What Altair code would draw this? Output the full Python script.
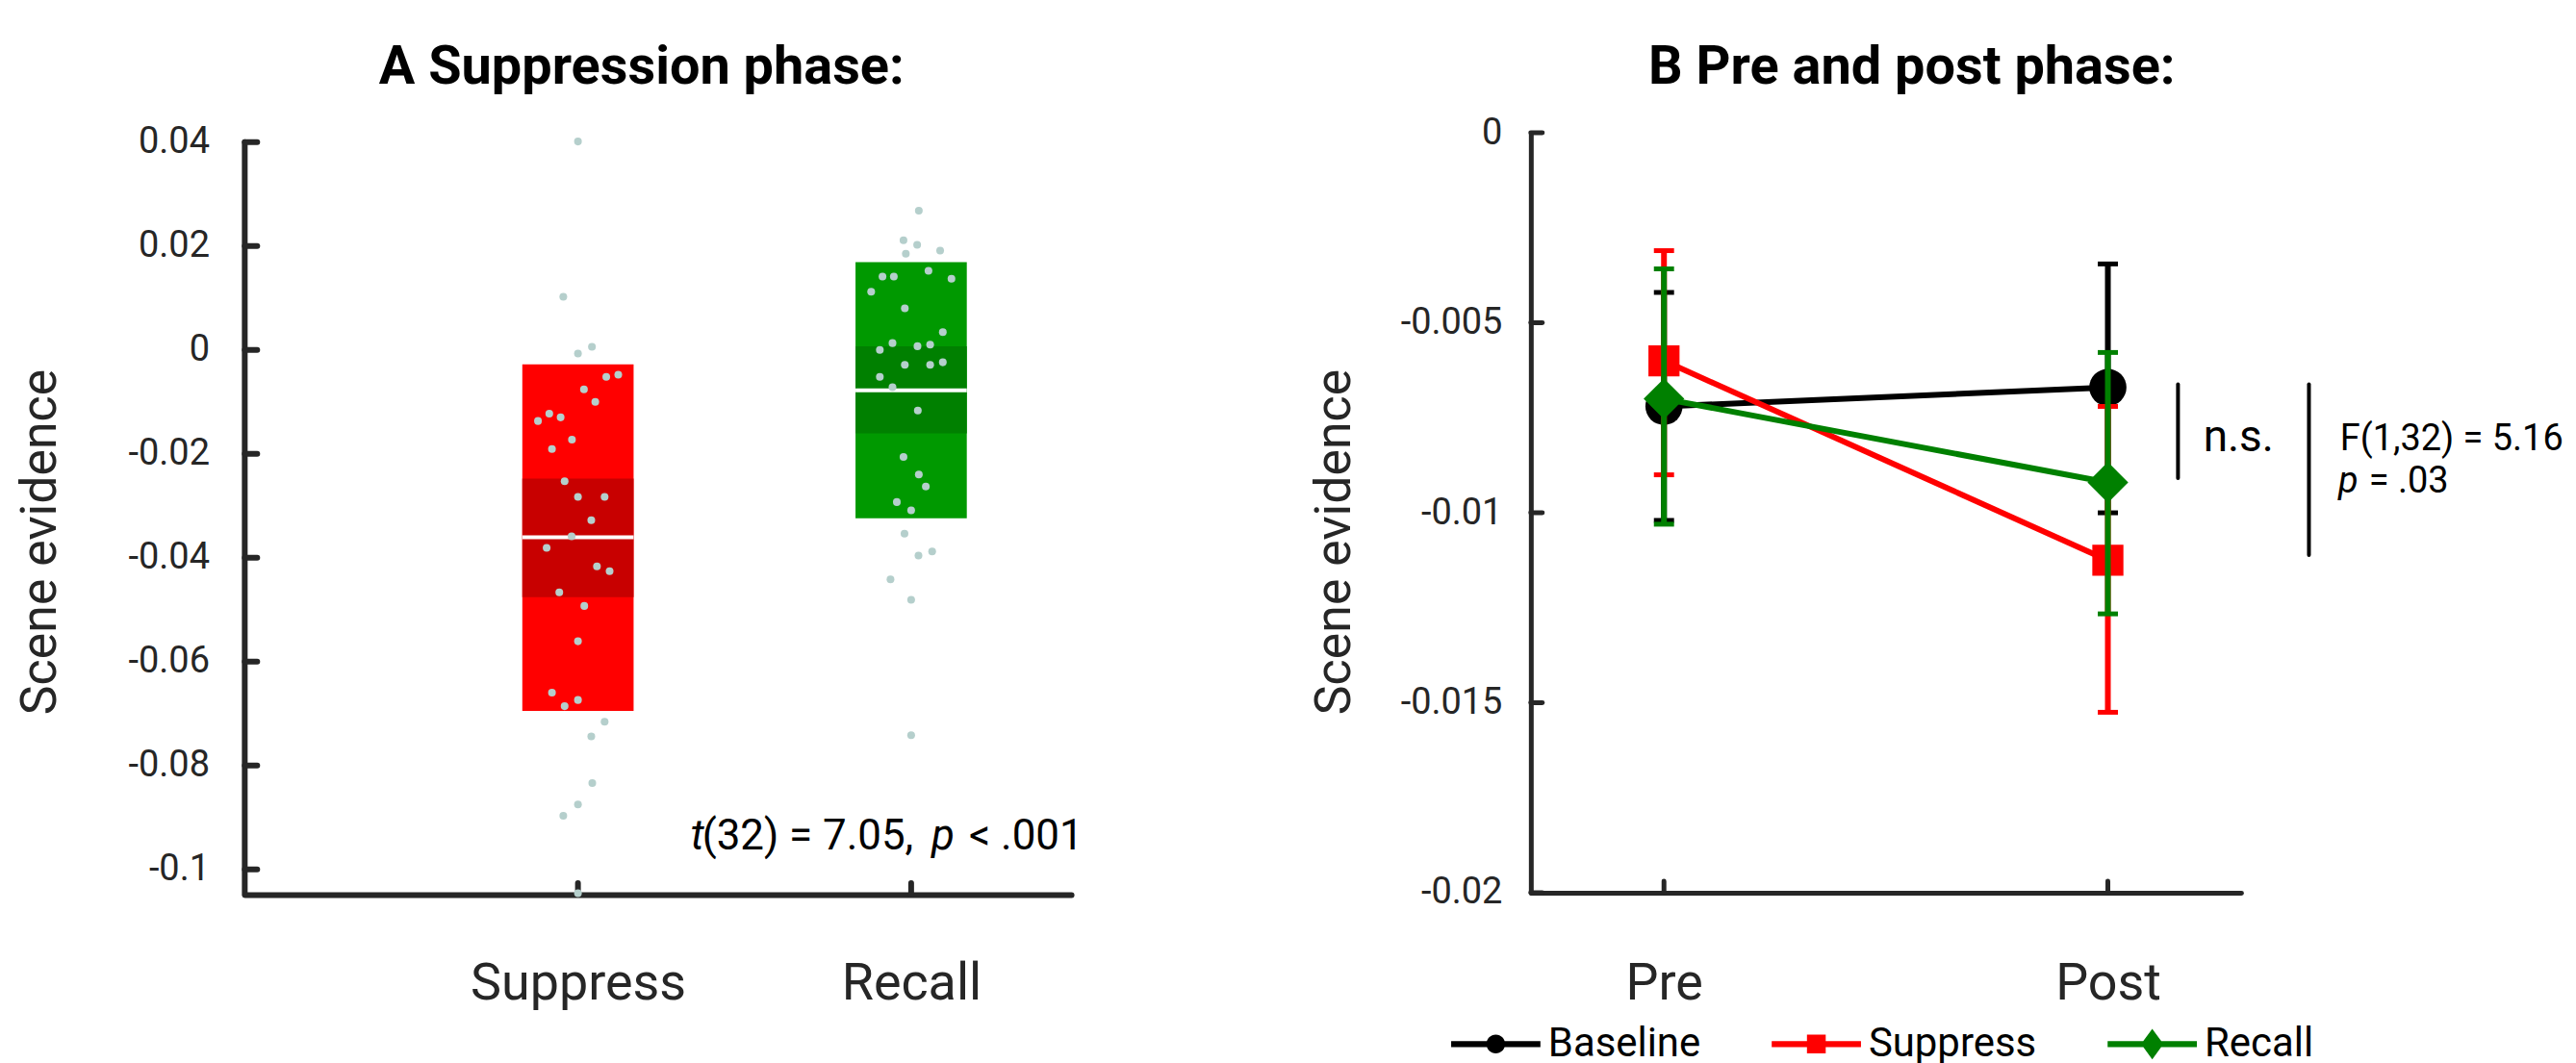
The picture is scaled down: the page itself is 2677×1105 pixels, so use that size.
import altair as alt
import pandas as pd

FONT = "Roboto"
AX = "#262626"

# ---------------- Panel A data ----------------
conditions = ["Suppress", "Recall"]
cond_pos = [1, 2]
box_colors = ["#ff0000", "#009900"]
band_colors = ["#c80000", "#008000"]
box_high = [-0.0028, 0.0169]
box_low = [-0.0695, -0.0324]
ci_high = [-0.0248, 0.0007]
ci_low = [-0.0476, -0.0161]
cond_mean = [-0.0361, -0.0078]

suppress_vals = [0.0401, 0.0102, -0.0007, 0.0006, -0.0052, -0.0048, -0.0076, -0.0100,
                 -0.0137, -0.0123, -0.0130, -0.0173, -0.0191, -0.0253, -0.0283, -0.0283,
                 -0.0328, -0.0359, -0.0381, -0.0417, -0.0426, -0.0467, -0.0493, -0.0561,
                 -0.0660, -0.0686, -0.0674, -0.0716, -0.0744, -0.0834, -0.0875, -0.0897, -0.1046]
suppress_jitter = [0, -0.044, 0, 0.042, 0.085, 0.121, 0.018, 0.052, -0.120, -0.086, -0.052,
                   -0.018, -0.078, -0.040, 0, 0.080, 0.040, -0.019, -0.094, 0.057, 0.095,
                   -0.056, 0.019, 0, -0.078, -0.040, 0, 0.080, 0.040, 0.043, 0, -0.044, 0]
recall_vals = [0.0268, 0.0211, 0.0202, 0.0185, 0.0191, 0.0141, 0.0141, 0.0152, 0.0137,
               0.0112, 0.0080, 0.0034, 0.0013, 0.0000, 0.0007, 0.0010, -0.0029, -0.0029,
               -0.0024, -0.0052, -0.0072, -0.0117, -0.0206, -0.0240, -0.0263, -0.0293,
               -0.0309, -0.0354, -0.0396, -0.0388, -0.0442, -0.0481, -0.0742]
recall_jitter = [0.023, -0.023, 0.018, -0.016, 0.087, -0.086, -0.052, 0.052, 0.121, -0.120,
                 -0.019, 0.095, -0.056, -0.094, 0.019, 0.057, -0.019, 0.057, 0.095, -0.094,
                 -0.056, 0.020, -0.023, 0.023, 0.044, -0.043, 0, -0.020, 0.022, 0.063,
                 -0.062, 0, 0]
a_ticks = [0.04, 0.02, 0, -0.02, -0.04, -0.06, -0.08, -0.1]

# ---------------- Panel B data ----------------
phases = ["Pre", "Post"]
phase_pos = [1, 2]
series = ["Baseline", "Suppress", "Recall"]
series_colors = ["#000000", "#ff0000", "#008000"]
series_shapes = ["circle", "square", "diamond"]
series_sizes = [1500, 1050, 1800]
baseline_mean = [-0.0072, -0.0067]
baseline_lo = [-0.0102, -0.0100]
baseline_hi = [-0.0042, -0.00345]
suppress_mean = [-0.0060, -0.01125]
suppress_lo = [-0.0090, -0.01525]
suppress_hi = [-0.0031, -0.0072]
recall_mean = [-0.0070, -0.0092]
recall_lo = [-0.0103, -0.01266]
recall_hi = [-0.00358, -0.00578]
b_ticks = [0, -0.005, -0.01, -0.015, -0.02]

# ---------------- layout constants ----------------
A_W, A_H = 861, 794
A_XDOM = [0, 2.48]
A_YDOM = [-0.10488, 0.04177]
BOX_HALF = 0.167
B_W, B_H = 740, 792
B_XDOM = [0.7, 2.3]
B_YDOM = [-0.02, 0]

# ---------------- Panel A ----------------
df_box = pd.DataFrame({"cond": conditions, "pos": cond_pos, "hi": box_high, "lo": box_low,
                       "ci_hi": ci_high, "ci_lo": ci_low, "mean": cond_mean,
                       "c_box": box_colors, "c_band": band_colors})
df_box["x1"] = df_box["pos"] - BOX_HALF
df_box["x2"] = df_box["pos"] + BOX_HALF

df_dots = pd.DataFrame({
    "cond": [conditions[0]] * len(suppress_vals) + [conditions[1]] * len(recall_vals),
    "pos": [cond_pos[0]] * len(suppress_vals) + [cond_pos[1]] * len(recall_vals),
    "val": suppress_vals + recall_vals,
    "jit": suppress_jitter + recall_jitter,
})
df_dots["xp"] = df_dots["pos"] + df_dots["jit"]

a_label_expr = f"datum.value == {cond_pos[0]} ? '{conditions[0]}' : '{conditions[1]}'"
num_expr = "datum.value == 0 ? '0' : '' + datum.value"


def ax_a(field):
    return alt.X(f"{field}:Q", scale=alt.Scale(domain=A_XDOM, nice=False, zero=False),
                 axis=alt.Axis(values=cond_pos, labelExpr=a_label_expr, domain=True,
                               domainColor=AX, domainWidth=6, domainCap="round",
                               ticks=False, tickSize=0, grid=False, labelFont=FONT,
                               labelFontSize=54, labelColor=AX, labelPadding=66,
                               labelLimit=500, title=None, zindex=0))


def ay_a(field):
    return alt.Y(f"{field}:Q", scale=alt.Scale(domain=A_YDOM, nice=False, zero=False),
                 axis=alt.Axis(values=a_ticks, labelExpr=num_expr, domain=False, ticks=False,
                               tickSize=0, grid=False, labelFont=FONT, labelFontSize=38,
                               labelColor=AX, labelPadding=37, title="Scene evidence",
                               titleFont=FONT, titleFontSize=52, titleFontWeight="normal",
                               titleColor=AX, titlePadding=65, titleY=426, zindex=0))


yline_a = alt.Chart(pd.DataFrame({"x": [A_XDOM[0]], "y1": [A_YDOM[0]], "y2": [a_ticks[0]]})).mark_rule(
    color=AX, strokeWidth=6, strokeCap="round").encode(x=ax_a("x"), y=ay_a("y1"), y2="y2:Q")
yticks_a = alt.Chart(pd.DataFrame({"v": a_ticks})).mark_rule(
    color=AX, strokeWidth=6, strokeCap="round").encode(y=ay_a("v"), x=alt.value(0), x2=alt.value(13))
xticks_a = alt.Chart(pd.DataFrame({"p": cond_pos})).mark_rule(
    color=AX, strokeWidth=6, strokeCap="round").encode(x=ax_a("p"), y=alt.value(A_H), y2=alt.value(A_H - 12))

boxes = alt.Chart(df_box).mark_rect().encode(
    x=ax_a("x1"), x2="x2:Q", y=ay_a("lo"), y2="hi:Q", color=alt.Color("c_box:N", scale=None))
bands = alt.Chart(df_box).mark_rect().encode(
    x=ax_a("x1"), x2="x2:Q", y=ay_a("ci_lo"), y2="ci_hi:Q", color=alt.Color("c_band:N", scale=None))
medians = alt.Chart(df_box).mark_rule(color="white", strokeWidth=4).encode(
    x=ax_a("x1"), x2="x2:Q", y=ay_a("mean"))
dots = alt.Chart(df_dots).mark_circle(size=65, color="#b5cfcc", opacity=1).encode(
    x=ax_a("xp"), y=ay_a("val"))

T_X, T_Y = 1.338, -0.0962
df_t = pd.DataFrame({"x": [T_X], "y": [T_Y]})
t_style = dict(align="left", baseline="alphabetic", font=FONT, fontSize=44, color="black")
t_parts = [("t", 0, "italic"), ("(32) = 7.05,", 12, "normal"), ("p", 251, "italic"), ("< .001", 290, "normal")]
t_layers = [alt.Chart(df_t).mark_text(text=txt, dx=dx, fontStyle=fs, **t_style).encode(
    x=ax_a("x"), y=ay_a("y")) for txt, dx, fs in t_parts]

panel_a = alt.layer(yline_a, yticks_a, xticks_a, boxes, bands, medians, dots, *t_layers).properties(
    width=A_W, height=A_H,
    title=alt.TitleParams("A Suppression phase:", font=FONT, fontSize=56, fontWeight="bold",
                          color="black", anchor="middle", frame="group", dx=-17, dy=53,
                          baseline="alphabetic", offset=39))

# ---------------- Panel B ----------------
means = [baseline_mean, suppress_mean, recall_mean]
los = [baseline_lo, suppress_lo, recall_lo]
his = [baseline_hi, suppress_hi, recall_hi]
rows = []
for s, m, lo, hi in zip(series, means, los, his):
    for ph, p, mv, lv, hv in zip(phases, phase_pos, m, lo, hi):
        rows.append({"series": s, "phase": ph, "pos": p, "mean": mv, "lo": lv, "hi": hv})
df_b = pd.DataFrame(rows)

b_label_expr = f"datum.value == {phase_pos[0]} ? '{phases[0]}' : '{phases[1]}'"


def ax_b(field):
    return alt.X(f"{field}:Q", scale=alt.Scale(domain=B_XDOM, nice=False, zero=False),
                 axis=alt.Axis(values=phase_pos, labelExpr=b_label_expr, domain=True,
                               domainColor=AX, domainWidth=5, domainCap="round",
                               ticks=False, tickSize=0, grid=False, labelFont=FONT,
                               labelFontSize=54, labelColor=AX, labelPadding=68,
                               labelLimit=500, title=None, zindex=0))


def ay_b(field):
    return alt.Y(f"{field}:Q", scale=alt.Scale(domain=B_YDOM, nice=False, zero=False),
                 axis=alt.Axis(values=b_ticks, labelExpr=num_expr, domain=True,
                               domainColor=AX, domainWidth=5, domainCap="round", ticks=False,
                               tickSize=0, grid=False, labelFont=FONT, labelFontSize=38,
                               labelColor=AX, labelPadding=30, title="Scene evidence",
                               titleFont=FONT, titleFontSize=52, titleFontWeight="normal",
                               titleColor=AX, titlePadding=42, titleY=426, zindex=0))


yticks_b = alt.Chart(pd.DataFrame({"v": b_ticks})).mark_rule(
    color=AX, strokeWidth=5, strokeCap="round").encode(y=ay_b("v"), x=alt.value(0), x2=alt.value(12))
xticks_b = alt.Chart(pd.DataFrame({"p": phase_pos})).mark_rule(
    color=AX, strokeWidth=5, strokeCap="round").encode(x=ax_b("p"), y=alt.value(B_H), y2=alt.value(B_H - 12))

series_layers = []
for s, col, shp, sz in zip(series, series_colors, series_shapes, series_sizes):
    base = alt.Chart(df_b).transform_filter(alt.datum.series == s)
    series_layers.append(base.mark_line(color=col, strokeWidth=6).encode(x=ax_b("pos"), y=ay_b("mean")))
    series_layers.append(base.mark_rule(color=col, strokeWidth=6).encode(x=ax_b("pos"), y=ay_b("lo"), y2="hi:Q"))
    series_layers.append(base.transform_fold(["lo", "hi"], as_=["k", "v"]).mark_tick(
        color=col, orient="horizontal", size=21, thickness=5, opacity=1).encode(x=ax_b("pos"), y=ay_b("v")))
    series_layers.append(base.mark_point(filled=True, shape=shp, size=sz, color=col, opacity=1,
                                         strokeWidth=0).encode(x=ax_b("pos"), y=ay_b("mean")))

# annotations
df_lines = pd.DataFrame({"x": [2.158, 2.453], "y1": [-0.00662, -0.00662], "y2": [-0.00909, -0.01111]})
ann_lines = alt.Chart(df_lines).mark_rule(color="black", strokeWidth=4, strokeCap="round").encode(
    x=ax_b("x"), y=ay_b("y1"), y2="y2:Q")
ns_text = alt.Chart(pd.DataFrame({"x": [2.215], "y": [-0.00838]})).mark_text(
    text="n.s.", align="left", baseline="alphabetic", font=FONT, fontSize=46, color="black").encode(
    x=ax_b("x"), y=ay_b("y"))
f_text = alt.Chart(pd.DataFrame({"x": [2.523], "y": [-0.00836]})).mark_text(
    text="F(1,32) = 5.16", align="left", baseline="alphabetic", font=FONT, fontSize=38, color="black").encode(
    x=ax_b("x"), y=ay_b("y"))
p_df = pd.DataFrame({"x": [2.519], "y": [-0.00946]})
p_text1 = alt.Chart(p_df).mark_text(text="p", align="left", baseline="alphabetic", font=FONT,
                                    fontSize=38, fontStyle="italic", color="black").encode(
    x=ax_b("x"), y=ay_b("y"))
p_text2 = alt.Chart(p_df).mark_text(text="= .03", dx=32, align="left", baseline="alphabetic", font=FONT,
                                    fontSize=38, color="black").encode(x=ax_b("x"), y=ay_b("y"))

# legend (custom line + marker symbols)
LINE = "M-1,-0.065H1V0.065H-1Z"
legend_paths = [
    LINE + "M-0.21,0A0.21,0.21,0,1,1,0.21,0A0.21,0.21,0,1,1,-0.21,0Z",
    LINE + "M-0.21,-0.21H0.21V0.21H-0.21Z",
    LINE + "M0,-0.34L0.25,0L0,0.34L-0.25,0Z",
]
leg = alt.Legend(orient="none", legendX=1257, legendY=903, direction="horizontal", title=None,
                 symbolSize=8649, symbolStrokeWidth=0, symbolOpacity=1, labelFont=FONT,
                 labelFontSize=42, labelColor="black", labelOffset=8, columnPadding=74,
                 labelLimit=500, padding=0)
legend_layer = alt.Chart(pd.DataFrame({"legend_series": series})).transform_filter("false").mark_point(
    filled=True, opacity=1).encode(
    color=alt.Color("legend_series:N", scale=alt.Scale(domain=series, range=series_colors), legend=leg),
    shape=alt.Shape("legend_series:N", scale=alt.Scale(domain=series, range=legend_paths), legend=leg))

panel_b = alt.layer(yticks_b, xticks_b, *series_layers, ann_lines, ns_text, f_text, p_text1, p_text2,
                    legend_layer).properties(
    width=B_W, height=B_H,
    title=alt.TitleParams("B Pre and post phase:", font=FONT, fontSize=56, fontWeight="bold",
                          color="black", anchor="middle", frame="group", dx=27, dy=53,
                          baseline="alphabetic", offset=29))

chart = alt.hconcat(panel_a, panel_b, spacing=479, bounds="flush").properties(
    padding={"left": 7, "top": 32, "right": 5, "bottom": 0}
).configure_view(strokeWidth=0, stroke="transparent").configure(
    font=FONT, style={"cell": {"stroke": "transparent", "strokeWidth": 0}})

chart.save("out.html", embed_options={"renderer": "svg", "actions": False})
